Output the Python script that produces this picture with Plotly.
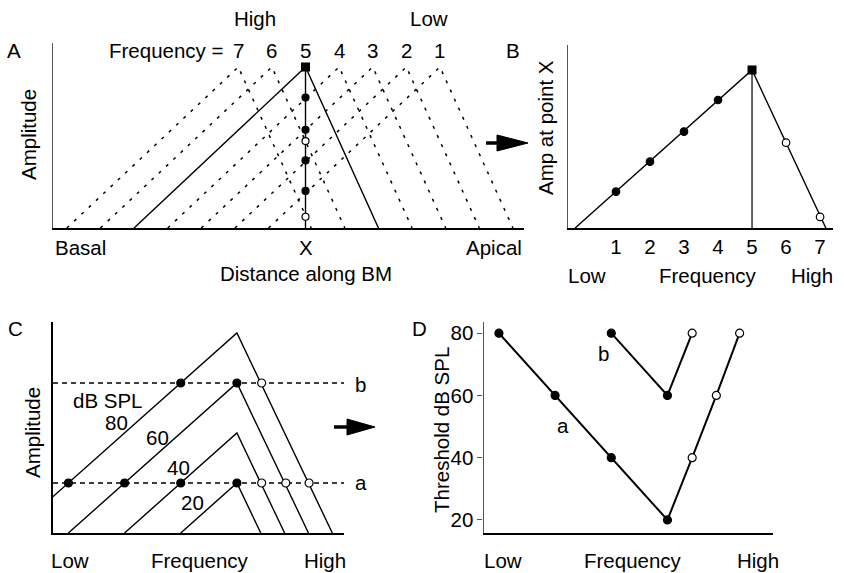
import plotly.graph_objects as go

# ---------------- data ----------------
# Panel A: travelling-wave envelopes along the basilar membrane
freq_numbers = [7, 6, 5, 4, 3, 2, 1]
peak_place = [5.5, 6.5, 7.5, 8.5, 9.5, 10.5, 11.5]   # place of each envelope peak
rise_len = 5.1     # basal-side extent of an envelope
fall_len = 2.17    # apical-side extent of an envelope
point_x = 7.5      # place "X"

# Panel B: amplitude at point X vs frequency
b_freq = [1, 2, 3, 4, 5, 6, 7]
b_amp = [0.23, 0.42, 0.61, 0.81, 1.0, 0.54, 0.07]
b_line_freq = [-0.2, 5, 7.17]
b_line_amp = [0, 1.0, 0]

# Panel C: tuning at one place for several levels
levels_db = [20, 40, 60, 80]
best_freq = 6.32
low_slope = 10.36    # dB per frequency unit
high_slope = 24.4
crit_a = 20
crit_b = 60

# Panel D: threshold tuning curves
a_freq = [0.53, 2.46, 4.39, 6.32, 7.17, 8.0, 8.8]
a_thr = [80, 60, 40, 20, 40, 60, 80]
a_filled = [True, True, True, True, False, False, False]
bb_freq = [4.39, 6.32, 7.17]
bb_thr = [80, 60, 80]
bb_filled = [True, True, False]

# ---------------- helpers ----------------
W, H = 844, 573
def px(x):
    return x / W
def py(y):
    return 1 - y / H

FONT = "Liberation Sans, Arial, Helvetica, sans-serif"
FS = 20.5
LW = 1.4

fig = go.Figure()

def dot_markers(filled, size=8):
    return dict(size=size, symbol="circle",
                color=["black" if f else "white" for f in filled],
                line=dict(color="black", width=1.2))

# ---------------- Panel A ----------------
for f, p in zip(freq_numbers, peak_place):
    xs = [p - rise_len, p, p + fall_len]
    ys = [0, 1, 0]
    solid = (p == point_x)
    fig.add_trace(go.Scatter(
        x=xs, y=ys, mode="lines", xaxis="x", yaxis="y",
        line=dict(color="black", width=LW if solid else 1.5,
                  dash="solid" if solid else "3px,7px"),
        hoverinfo="skip"))
fig.add_trace(go.Scatter(x=[point_x, point_x], y=[0, 1], mode="lines",
                         xaxis="x", yaxis="y",
                         line=dict(color="black", width=LW), hoverinfo="skip"))
filledA = [f < 5 for f in b_freq]
idx_round = [i for i, f in enumerate(b_freq) if f != 5]
fig.add_trace(go.Scatter(
    x=[point_x] * len(idx_round), y=[b_amp[i] for i in idx_round],
    mode="markers", xaxis="x", yaxis="y",
    marker=dot_markers([filledA[i] for i in idx_round], 7), hoverinfo="skip"))
i5 = b_freq.index(5)
fig.add_trace(go.Scatter(x=[point_x], y=[b_amp[i5]], mode="markers",
                         xaxis="x", yaxis="y",
                         marker=dict(symbol="square", size=9, color="black"),
                         hoverinfo="skip"))

# ---------------- Panel B ----------------
fig.add_trace(go.Scatter(x=[5, 5], y=[0, 1], mode="lines", xaxis="x2", yaxis="y2",
                         line=dict(color="#555555", width=1.8), hoverinfo="skip"))
fig.add_trace(go.Scatter(x=b_line_freq, y=b_line_amp, mode="lines",
                         xaxis="x2", yaxis="y2",
                         line=dict(color="black", width=LW), hoverinfo="skip"))
fig.add_trace(go.Scatter(
    x=[b_freq[i] for i in idx_round], y=[b_amp[i] for i in idx_round],
    mode="markers", xaxis="x2", yaxis="y2",
    marker=dot_markers([filledA[i] for i in idx_round], 7.5), hoverinfo="skip"))
fig.add_trace(go.Scatter(x=[5], y=[b_amp[i5]], mode="markers",
                         xaxis="x2", yaxis="y2",
                         marker=dict(symbol="square", size=9, color="black"),
                         hoverinfo="skip"))

# ---------------- Panel C ----------------
for L in levels_db:
    xs = [best_freq - L / low_slope, best_freq, best_freq + L / high_slope]
    fig.add_trace(go.Scatter(x=xs, y=[0, L, 0], mode="lines",
                             xaxis="x3", yaxis="y3",
                             line=dict(color="black", width=LW), hoverinfo="skip"))
for c in (crit_a, crit_b):
    fig.add_trace(go.Scatter(x=[0, 10], y=[c, c], mode="lines",
                             xaxis="x3", yaxis="y3",
                             line=dict(color="black", width=1.4, dash="5px,4px"),
                             hoverinfo="skip"))
fig.add_trace(go.Scatter(x=a_freq, y=[crit_a] * len(a_freq), mode="markers",
                         xaxis="x3", yaxis="y3",
                         marker=dot_markers(a_filled, 8), hoverinfo="skip"))
fig.add_trace(go.Scatter(x=bb_freq, y=[crit_b] * len(bb_freq), mode="markers",
                         xaxis="x3", yaxis="y3",
                         marker=dot_markers(bb_filled, 8), hoverinfo="skip"))

# ---------------- Panel D ----------------
fig.add_trace(go.Scatter(x=a_freq, y=a_thr, mode="lines+markers",
                         xaxis="x4", yaxis="y4",
                         line=dict(color="black", width=2),
                         marker=dot_markers(a_filled, 8), hoverinfo="skip"))
fig.add_trace(go.Scatter(x=bb_freq, y=bb_thr, mode="lines+markers",
                         xaxis="x4", yaxis="y4",
                         line=dict(color="black", width=2),
                         marker=dot_markers(bb_filled, 8), hoverinfo="skip"))

# ---------------- axes ----------------
def base_axis(**kw):
    d = dict(showgrid=False, zeroline=False, showticklabels=False, ticks="",
             fixedrange=True, showline=True, mirror=False)
    d.update(kw)
    return d

tickfont = dict(family=FONT, size=FS, color="black")

fig.update_layout(
    width=W, height=H, margin=dict(l=0, r=0, t=0, b=0),
    paper_bgcolor="white", plot_bgcolor="white", showlegend=False,
    xaxis=base_axis(domain=[px(53.4), px(524)], range=[0, 14], anchor="y",
                    linecolor="black", linewidth=1.6),
    yaxis=base_axis(domain=[py(228), py(43)], range=[0, 1.149], anchor="x",
                    linecolor="#555555", linewidth=1.2),
    xaxis2=base_axis(domain=[px(568), px(833)], range=[-0.41, 7.38], anchor="y2",
                     linecolor="black", linewidth=1.6, showticklabels=True,
                     tickvals=b_freq, ticktext=[str(v) for v in b_freq],
                     tickfont=tickfont),
    yaxis2=base_axis(domain=[py(228), py(45)], range=[0, 1.158], anchor="x2",
                     linecolor="#555555", linewidth=1.2),
    xaxis3=base_axis(domain=[px(53), px(344)], range=[0, 10], anchor="y3",
                     linecolor="black", linewidth=1.8),
    yaxis3=base_axis(domain=[py(533), py(322)], range=[0, 84.4], anchor="x3",
                     linecolor="black", linewidth=1.5),
    xaxis4=base_axis(domain=[px(483.5), px(772.5)], range=[0, 9.93], anchor="y4",
                     linecolor="black", linewidth=1.8),
    yaxis4=base_axis(domain=[py(533), py(322)], range=[15.8, 83.6], anchor="x4",
                     linecolor="#555555", linewidth=1.2, showticklabels=True,
                     tickvals=[20, 40, 60, 80], ticks="outside", ticklen=5,
                     tickcolor="#555555", tickwidth=1.2, tickfont=tickfont),
)

# ---------------- text ----------------
ann = []
def txt(x, y, s, xa="center", size=FS, angle=0):
    ann.append(dict(x=px(x), y=py(y), xref="paper", yref="paper", text=s,
                    showarrow=False, xanchor=xa, yanchor="middle", textangle=angle,
                    font=dict(family=FONT, size=size, color="black")))

# Panel A
txt(14, 50, "A")
txt(255, 18, "High")
txt(429, 18, "Low")
txt(226, 50, "Frequency =", xa="right")
for f, p in zip(freq_numbers, peak_place):
    ann.append(dict(x=p, y=py(50), xref="x", yref="paper", text=str(f),
                    showarrow=False, xanchor="center", yanchor="middle",
                    font=dict(family=FONT, size=FS, color="black")))
txt(29, 135, "Amplitude", angle=-90)
txt(53, 247, "Basal", xa="left")
ann.append(dict(x=point_x, y=py(247), xref="x", yref="paper", text="X",
                showarrow=False, xanchor="center", yanchor="middle",
                font=dict(family=FONT, size=FS, color="black")))
txt(524, 247, "Apical", xa="right")
txt(306, 273, "Distance along BM")

# Panel B
txt(513, 50, "B")
txt(546, 128, "Amp at point X", angle=-90)
txt(587, 275, "Low")
txt(708, 275, "Frequency")
txt(812, 275, "High")

# Panel C
txt(15, 328, "C")
txt(32, 433, "Amplitude", angle=-90)
txt(108, 400, "dB SPL")
txt(117, 422, "80")
txt(157, 437, "60")
txt(178, 467, "40")
txt(192, 503, "20")
txt(353, 483, "a", xa="left")
txt(353, 384, "b", xa="left")
txt(70, 560, "Low")
txt(200, 560, "Frequency")
txt(325, 560, "High")

# Panel D
txt(419, 328, "D")
txt(441, 430, "Threshold dB SPL", angle=-90)
txt(563, 425, "a")
txt(603, 353, "b")
txt(503, 560, "Low")
txt(633, 560, "Frequency")
txt(758, 560, "High")

fig.update_layout(annotations=ann)

# ---------------- arrows ----------------
def arrow(x0, x1, xh, y, half, shaft=3.5):
    shapes = []
    shapes.append(dict(type="rect", xref="paper", yref="paper",
                       x0=px(x0), x1=px(xh + 1), y0=py(y + shaft / 2), y1=py(y - shaft / 2),
                       fillcolor="black", line=dict(width=0)))
    path = "M {} {} L {} {} L {} {} Z".format(px(xh), py(y - half), px(x1), py(y),
                                              px(xh), py(y + half))
    shapes.append(dict(type="path", xref="paper", yref="paper", path=path,
                       fillcolor="black", line=dict(color="black", width=1)))
    return shapes

shapes = arrow(486, 528, 497, 143, 8) + arrow(334, 375, 347, 427, 8)
fig.update_layout(shapes=shapes)

fig.write_html("out.html")
